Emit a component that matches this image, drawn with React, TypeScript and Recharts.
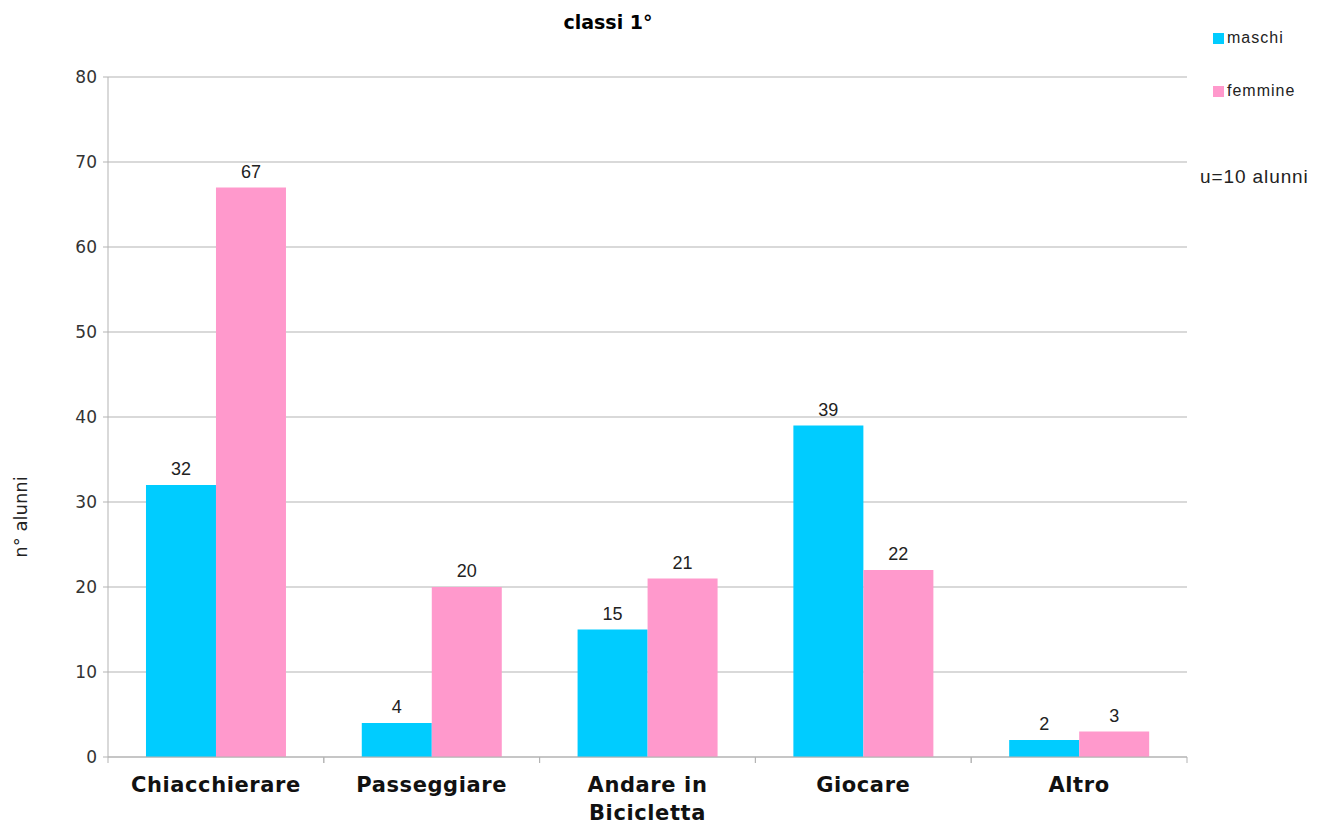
import { BarChart, Bar, XAxis, YAxis, CartesianGrid, LabelList, Label } from 'recharts';

const categories = ['Chiacchierare', 'Passeggiare', 'Andare in Bicicletta', 'Giocare', 'Altro'];
const maschi = [32, 4, 15, 39, 2];
const femmine = [67, 20, 21, 22, 3];
const yTicks = [0, 10, 20, 30, 40, 50, 60, 70, 80];

const data = categories.map((name, i) => ({ name, maschi: maschi[i], femmine: femmine[i] }));

const CYAN = '#00CCFF';
const PINK = '#FF99CC';
const GRID = '#B3B3B3';
const VERDANA = "'DejaVu Sans', Verdana, sans-serif";
const NARROW = "'Liberation Sans Narrow', 'Arial Narrow', 'Liberation Sans', Arial, sans-serif";

function CategoryTick(props: any) {
  const { x, y, payload } = props;
  const band = 1079 / categories.length;
  const text: string = payload.value;
  let lines = [text];
  if (text.length > 13) {
    const cut = text.lastIndexOf(' ');
    lines = [text.slice(0, cut), text.slice(cut + 1)];
  }
  return (
    <g>
      <line x1={x - band / 2} x2={x - band / 2} y1={y - 8} y2={y - 2} stroke={GRID} />
      <line x1={x + band / 2} x2={x + band / 2} y1={y - 8} y2={y - 2} stroke={GRID} />
      {lines.map((l, i) => (
        <text
          key={i}
          x={x}
          y={y + 27 + i * 28}
          textAnchor="middle"
          fontFamily={VERDANA}
          fontWeight="bold"
          fontSize={21}
          letterSpacing={0.6}
          fill="#111"
        >
          {l}
        </text>
      ))}
    </g>
  );
}

function SideLegend() {
  const item = (color: string, label: string) => (
    <div style={{ display: 'flex', alignItems: 'center', height: 20 }}>
      <span style={{ width: 11, height: 11, background: color, display: 'inline-block', marginRight: 3 }} />
      <span>{label}</span>
    </div>
  );
  return (
    <div
      style={{
        position: 'absolute',
        left: 1200,
        top: 28,
        fontFamily: "'Liberation Sans', Arial, sans-serif",
        fontSize: 16,
        letterSpacing: 1,
        color: '#222',
      }}
    >
      <div style={{ paddingLeft: 13 }}>{item(CYAN, 'maschi')}</div>
      <div style={{ paddingLeft: 13, marginTop: 33 }}>{item(PINK, 'femmine')}</div>
      <div style={{ marginTop: 65, fontSize: 19, letterSpacing: 0.9 }}>u=10 alunni</div>
    </div>
  );
}

export default function App() {
  return (
    <div style={{ position: 'absolute', left: 0, top: 0, width: 1329, height: 825, background: '#fff' }}>
      <div
        style={{
          position: 'absolute',
          left: 0,
          width: 1216,
          top: 11,
          textAlign: 'center',
          fontFamily: VERDANA,
          fontWeight: 'bold',
          fontSize: 19,
          zIndex: 2,
        }}
      >
        classi 1°
      </div>
      <SideLegend />
      <BarChart
        width={1329}
        height={825}
        data={data}
        margin={{ top: 77, right: 142, bottom: 0, left: 8 }}
        barCategoryGap="17.6%"
        barGap={0}
      >
        <CartesianGrid vertical={false} stroke={GRID} />
        <XAxis
          dataKey="name"
          stroke={GRID}
          tickLine={false}
          tick={<CategoryTick />}
          interval={0}
          height={68}
        />
        <YAxis
          domain={[0, 80]}
          ticks={yTicks}
          stroke={GRID}
          tickSize={5}
          tickMargin={6}
          width={100}
          tick={{ fill: '#333', fontSize: 17, fontFamily: VERDANA }}
        >
          <Label
            content={() => (
              <text
                x={27}
                y={517}
                transform="rotate(-90 27 517)"
                textAnchor="middle"
                fontFamily={VERDANA}
                fontSize={18}
                fill="#222"
              >
                n° alunni
              </text>
            )}
          />
        </YAxis>
        <Bar dataKey="maschi" fill={CYAN} isAnimationActive={false}>
          <LabelList dataKey="maschi" position="top" offset={10} fill="#222" fontSize={18} fontFamily={NARROW} />
        </Bar>
        <Bar dataKey="femmine" fill={PINK} isAnimationActive={false}>
          <LabelList dataKey="femmine" position="top" offset={10} fill="#222" fontSize={18} fontFamily={NARROW} />
        </Bar>
      </BarChart>
    </div>
  );
}
